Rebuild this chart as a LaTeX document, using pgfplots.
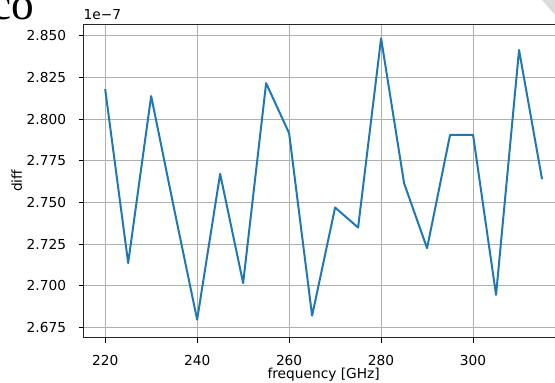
\documentclass[border=0pt]{standalone}
\usepackage{pgfplots}
\pgfplotsset{compat=1.18}
\usepackage{fontspec}
\setmainfont{DejaVu Sans}
\newfontfamily\seriffont{Liberation Serif}
\definecolor{mplblue}{HTML}{1F77B4}
\definecolor{gridgray}{HTML}{B0B0B0}
\pgfplotstableread{
f d
220 2.8179
225 2.7136
230 2.8138
235 2.7460
240 2.6796
245 2.7671
250 2.7016
255 2.8215
260 2.7915
265 2.6820
270 2.7469
275 2.7349
280 2.8484
285 2.7615
290 2.7225
295 2.7905
300 2.7905
305 2.6945
310 2.8414
315 2.7639
}\diffdata
\begin{document}
\begin{tikzpicture}
\useasboundingbox (0pt,0pt) rectangle (416.25pt,286.5pt);
\clip (0pt,0pt) rectangle (416.25pt,286.5pt);
\fill[gray!28] (406.5pt,286.5pt) -- (416.25pt,286.5pt) -- (416.25pt,275.25pt) -- cycle;
\node[anchor=base west, inner sep=0pt, font=\seriffont\fontsize{34}{34}\selectfont] at (-6.75pt,271.9pt) {co};
\begin{axis}[
  at={(62.5pt,33.2pt)}, anchor=south west,
  scale only axis, width=360.4pt, height=235.3pt,
  xmin=215.25, xmax=319.75, ymin=2.6688, ymax=2.857,
  clip mode=individual,
  xtick={220,240,260,280,300},
  ytick={2.675,2.7,2.725,2.75,2.775,2.8,2.825,2.85},
  /pgf/number format/assume math mode=true,
  yticklabel style={/pgf/number format/fixed, /pgf/number format/fixed zerofill, /pgf/number format/precision=3},
  tick label style={font=\fontsize{10.3}{12}\selectfont, inner sep=0pt},
  xticklabel style={anchor=north, yshift=-9.2pt},
  yticklabel style={anchor=east, xshift=-9.2pt},
  tick align=outside, tick pos=left,
  major tick length=3.6pt,
  every tick/.style={black, line width=0.6pt},
  axis line style={line width=0.6pt, black!85},
  grid=major, grid style={gridgray, line width=0.6pt},
  xlabel={frequency [GHz]},
  xlabel style={at={(axis description cs:0.5,0)}, anchor=north, inner sep=0pt, yshift=-22.7pt, font=\fontsize{10.3}{12}\selectfont},
  ylabel={diff},
  ylabel style={at={(axis description cs:0,0.5)}, anchor=center, rotate=0, inner sep=0pt, yshift=50pt, font=\fontsize{10.3}{12}\selectfont},
]
\addplot[mplblue, line width=1.5pt, line join=round, mark=none] table[x=f, y=d] {\diffdata};
\node[anchor=base west, inner sep=0pt, font=\fontsize{10.3}{12}\selectfont] at (axis description cs:0,1) [yshift=3pt] {1e−7};
\end{axis}
\end{tikzpicture}
\end{document}
